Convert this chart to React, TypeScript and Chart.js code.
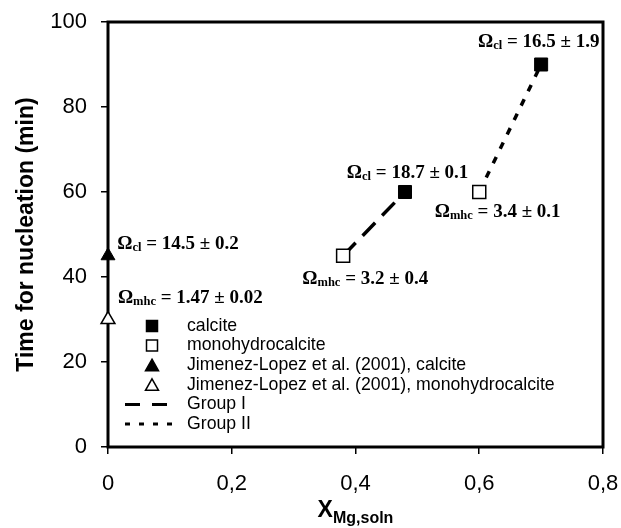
import React, { useEffect, useRef } from 'react';
import { Chart, registerables } from 'chart.js';
Chart.register(...registerables);

const calciteX = [0.48, 0.7];
const calciteY = [60, 90];
const mhcX = [0.38, 0.6];
const mhcY = [45, 60];
const jlCalciteX = [0];
const jlCalciteY = [45];
const jlMhcX = [0];
const jlMhcY = [30];
const groupIX = [0.38, 0.48];
const groupIY = [45, 60];
const groupIIX = [0.6, 0.7];
const groupIIY = [60, 90];

const xTicks = [0, 0.2, 0.4, 0.6, 0.8];
const xTickLabels = ['0', '0,2', '0,4', '0,6', '0,8'];
const yTicks = [0, 20, 40, 60, 80, 100];
const yTickLabels = ['0', '20', '40', '60', '80', '100'];

const legendLabels = [
  'calcite',
  'monohydrocalcite',
  'Jimenez-Lopez et al. (2001), calcite',
  'Jimenez-Lopez et al. (2001), monohydrocalcite',
  'Group I',
  'Group II',
];

const annoSub = ['cl', 'mhc', 'cl', 'mhc', 'mhc', 'cl'];
const annoText = ['= 14.5 ± 0.2', '= 1.47 ± 0.02', '= 18.7 ± 0.1', '= 3.2 ± 0.4', '= 3.4 ± 0.1', '= 16.5 ± 1.9'];
const annoX = [0.015, 0.016, 0.386, 0.314, 0.528, 0.598];
const annoY = [47.8, 35.0, 64.5, 39.5, 55.3, 95.3];

const yTitle = 'Time for nucleation (min)';
const xTitleMain = 'X';
const xTitleSub = 'Mg,soln';

const SANS = '"Liberation Sans", Arial, sans-serif';
const SERIF = '"Liberation Serif", "Times New Roman", serif';

const pts = (xs: number[], ys: number[]) => xs.map((x, i) => ({ x, y: ys[i] }));

const framePlugin = {
  id: 'frame',
  beforeDatasetsDraw(chart: any) {
    const { ctx, chartArea: a } = chart;
    ctx.save();
    ctx.strokeStyle = '#000';
    ctx.lineWidth = 3;
    ctx.strokeRect(a.left, a.top, a.right - a.left, a.bottom - a.top);
    ctx.restore();
  },
};

const annoPlugin = {
  id: 'annos',
  afterDatasetsDraw(chart: any) {
    const { ctx } = chart;
    const xs = chart.scales.x;
    const ys = chart.scales.y;
    ctx.save();
    ctx.fillStyle = '#000';
    ctx.textBaseline = 'middle';
    ctx.textAlign = 'left';
    annoText.forEach((t, i) => {
      let px = xs.getPixelForValue(annoX[i]);
      const py = ys.getPixelForValue(annoY[i]);
      ctx.font = `bold 19px ${SERIF}`;
      ctx.fillText('Ω', px, py);
      px += ctx.measureText('Ω').width;
      ctx.font = `bold 12.5px ${SERIF}`;
      ctx.fillText(annoSub[i], px, py + 4);
      px += ctx.measureText(annoSub[i]).width;
      ctx.font = `bold 19px ${SERIF}`;
      ctx.fillText(' ' + t, px, py);
    });
    ctx.restore();
  },
};

const legendPlugin = {
  id: 'customLegend',
  afterDraw(chart: any) {
    const { ctx, chartArea: a } = chart;
    const mx = a.left + 44;
    const tx = a.left + 79;
    const y0 = a.bottom - 121;
    const dy = 19.6;
    ctx.save();
    ctx.font = `17.7px ${SANS}`;
    ctx.textBaseline = 'middle';
    ctx.textAlign = 'left';
    chart.data.datasets.forEach((ds: any, i: number) => {
      const y = y0 + i * dy;
      ctx.fillStyle = '#000';
      ctx.strokeStyle = '#000';
      if (ds.showLine) {
        ctx.lineWidth = 3;
        ctx.setLineDash(ds.legendDash);
        ctx.beginPath();
        ctx.moveTo(a.left + 17, y);
        ctx.lineTo(a.left + (i === 4 ? 65 : 67), y);
        ctx.stroke();
        ctx.setLineDash([]);
      } else {
        ctx.lineWidth = 1.5;
        ctx.fillStyle = ds.backgroundColor;
        ctx.beginPath();
        if (ds.pointStyle === 'rect') {
          ctx.rect(mx - 5.5, y - 5.5, 11, 11);
        } else {
          ctx.moveTo(mx, y - 6);
          ctx.lineTo(mx + 6.5, y + 5.5);
          ctx.lineTo(mx - 6.5, y + 5.5);
          ctx.closePath();
        }
        ctx.fill();
        ctx.stroke();
      }
      ctx.fillStyle = '#000';
      ctx.fillText(legendLabels[i], tx, y);
    });
    ctx.restore();
  },
};

const xTitlePlugin = {
  id: 'xTitle',
  afterDraw(chart: any) {
    const { ctx, chartArea: a } = chart;
    ctx.save();
    ctx.fillStyle = '#000';
    ctx.textBaseline = 'alphabetic';
    ctx.textAlign = 'left';
    ctx.font = `bold 23px ${SANS}`;
    const w1 = ctx.measureText(xTitleMain).width;
    ctx.font = `bold 16px ${SANS}`;
    const w2 = ctx.measureText(xTitleSub).width;
    const cx = (a.left + a.right) / 2;
    const x0 = cx - (w1 + w2) / 2;
    ctx.font = `bold 23px ${SANS}`;
    ctx.fillText(xTitleMain, x0, a.bottom + 70);
    ctx.font = `bold 16px ${SANS}`;
    ctx.fillText(xTitleSub, x0 + w1, a.bottom + 76);
    ctx.restore();
  },
};

export default function App() {
  const ref = useRef<HTMLCanvasElement | null>(null);
  useEffect(() => {
    if (!ref.current) return;
    const chart = new Chart(ref.current, {
      type: 'scatter',
      data: {
        datasets: [
          {
            label: legendLabels[0],
            data: pts(calciteX, calciteY),
            pointStyle: 'rect',
            pointRadius: 9.2,
            backgroundColor: '#000',
            borderColor: '#000',
            borderWidth: 1,
            clip: false,
          },
          {
            label: legendLabels[1],
            data: pts(mhcX, mhcY),
            pointStyle: 'rect',
            pointRadius: 9.2,
            backgroundColor: '#fff',
            borderColor: '#000',
            borderWidth: 1.5,
            clip: false,
          },
          {
            label: legendLabels[2],
            data: pts(jlCalciteX, jlCalciteY),
            pointStyle: 'triangle',
            pointRadius: 8,
            backgroundColor: '#000',
            borderColor: '#000',
            borderWidth: 1,
            clip: false,
          },
          {
            label: legendLabels[3],
            data: pts(jlMhcX, jlMhcY),
            pointStyle: 'triangle',
            pointRadius: 8,
            backgroundColor: '#fff',
            borderColor: '#000',
            borderWidth: 1.5,
            clip: false,
          },
          {
            label: legendLabels[4],
            data: pts(groupIX, groupIY),
            showLine: true,
            pointRadius: 0,
            borderColor: '#000',
            borderWidth: 3.5,
            borderDash: [18, 10],
            legendDash: [15, 12],
          } as any,
          {
            label: legendLabels[5],
            data: pts(groupIIX, groupIIY),
            showLine: true,
            pointRadius: 0,
            borderColor: '#000',
            borderWidth: 3.5,
            borderDash: [7, 9],
            legendDash: [5, 9],
          } as any,
        ],
      },
      options: {
        animation: false,
        responsive: false,
        layout: { padding: { left: 0, top: 22, right: 18, bottom: 0 } },
        plugins: {
          legend: { display: false },
          tooltip: { enabled: false },
        },
        scales: {
          x: {
            type: 'linear',
            min: 0,
            max: 0.8,
            afterBuildTicks: (s: any) => {
              s.ticks = xTicks.map((v) => ({ value: v }));
            },
            afterFit: (s: any) => {
              s.height = 81;
              s.paddingLeft = 0;
              s.paddingRight = 0;
            },
            ticks: {
              callback: (_v: any, i: number) => xTickLabels[i],
              font: { family: SANS, size: 22 },
              color: '#000',
              padding: 17,
              maxRotation: 0,
            },
            grid: {
              display: true,
              drawOnChartArea: false,
              drawTicks: true,
              tickLength: 7,
              color: '#000',
              lineWidth: 1.5,
            },
            border: { display: false },
          },
          y: {
            type: 'linear',
            min: 0,
            max: 100,
            afterBuildTicks: (s: any) => {
              s.ticks = yTicks.map((v) => ({ value: v }));
            },
            afterFit: (s: any) => {
              s.width = 108;
              s.paddingTop = 0;
              s.paddingBottom = 0;
            },
            ticks: {
              callback: (_v: any, i: number) => yTickLabels[i],
              font: { family: SANS, size: 22 },
              color: '#000',
              padding: 14,
            },
            grid: {
              display: true,
              drawOnChartArea: false,
              drawTicks: true,
              tickLength: 7,
              color: '#000',
              lineWidth: 1.5,
            },
            border: { display: false },
            title: {
              display: true,
              text: yTitle,
              color: '#000',
              font: { family: SANS, size: 23, weight: 'bold' },
              padding: { top: 13, bottom: 0 },
            },
          },
        },
      } as any,
      plugins: [framePlugin, annoPlugin, legendPlugin, xTitlePlugin],
    });
    return () => chart.destroy();
  }, []);
  return (
    <div style={{ position: 'absolute', left: 0, top: 0, width: 621, height: 528, background: '#fff' }}>
      <canvas ref={ref} width={621} height={528} />
    </div>
  );
}
